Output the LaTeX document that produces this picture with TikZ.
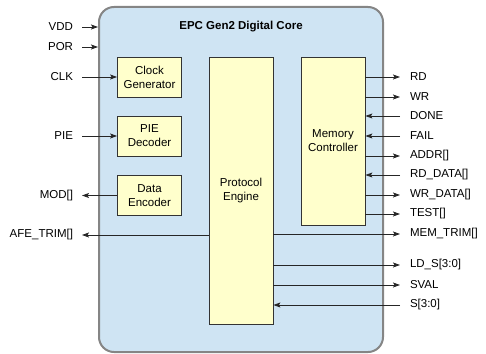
\documentclass[tikz,border=0pt]{standalone}
\usepackage{fontspec}
\setmainfont{Liberation Sans}
\usetikzlibrary{arrows.meta,positioning}
\definecolor{coreblue}{HTML}{CFE4F3}
\definecolor{blockyel}{HTML}{FFFFCC}
\definecolor{coreedge}{HTML}{858585}

\begin{document}
\begin{tikzpicture}[
  x=1pt, y=-1pt,
  font=\fontsize{11.5}{14}\selectfont,
  core/.style={draw=coreedge, fill=coreblue, line width=2pt, rounded corners=15pt},
  blk/.style={draw=black!80, fill=blockyel, align=center, inner sep=0pt, minimum width=64pt, line width=0.8pt},
  sigin/.style={inner sep=0pt, outer xsep=9pt, anchor=east},
  sigout/.style={inner sep=0pt, outer xsep=10pt, anchor=west},
  arr/.style={-{Stealth[length=7pt, width=5pt, inset=1.5pt]}, line width=0.8pt, draw=black!85}
]
\useasboundingbox (0,0) rectangle (486,353);
% core block
\node[core, minimum width=284pt, minimum height=345pt] (dig) at (241,179.5) {};
\node[font=\fontsize{11.5}{14}\selectfont\bfseries] (ttl) at (241,27) {EPC Gen2 Digital Core};

% inner blocks
\node[blk, minimum height=40pt] (clkgen) at (149.5,77) {Clock\\Generator};
\node[blk, minimum height=40pt] (piedec) at (149.5,136) {PIE\\Decoder};
\node[blk, minimum height=40pt] (dataenc) at (149.5,195.5) {Data\\Encoder};
\node[blk, minimum height=267pt] (proto) at (241,190.5) {Protocol\\Engine};
\node[blk, minimum height=168pt] (memctl) at (333,141) {Memory\\Controller};

% left side signals
\node[sigin] (vdd) at (82,27) {VDD};
\node[sigin] (por) at (82,47) {POR};
\node[sigin] (clk) at (82,77) {CLK};
\node[sigin] (pie) at (82,136) {PIE};
\node[sigin] (mod) at (82,195.5) {MOD[]};
\node[sigin] (afe) at (82,235) {AFE\_TRIM[]};

\draw[arr] (vdd) -- (vdd -| dig.west);
\draw[arr] (por) -- (por -| dig.west);
\draw[arr] (clk) -- (clkgen);
\draw[arr] (pie) -- (piedec);
\draw[arr] (dataenc) -- (mod);
\draw[arr] (afe -| proto.west) -- (afe);

% right side signals
\node[sigout] (rd) at (400,77) {RD};
\node[sigout] (wr) at (400,97) {WR};
\node[sigout] (done) at (400,116) {DONE};
\node[sigout] (fail) at (400,136) {FAIL};
\node[sigout] (addr) at (400,156) {ADDR[]};
\node[sigout] (rddata) at (400,175) {RD\_DATA[]};
\node[sigout] (wrdata) at (400,195) {WR\_DATA[]};
\node[sigout] (test) at (400,214) {TEST[]};
\node[sigout] (memtrim) at (400,234) {MEM\_TRIM[]};
\node[sigout] (lds) at (400,265) {LD\_S[3:0]};
\node[sigout] (sval) at (400,285) {SVAL};
\node[sigout] (sin) at (400,305) {S[3:0]};

\draw[arr] (rd -| memctl.east) -- (rd);
\draw[arr] (wr -| memctl.east) -- (wr);
\draw[arr] (done) -- (done -| memctl.east);
\draw[arr] (fail) -- (fail -| memctl.east);
\draw[arr] (addr -| memctl.east) -- (addr);
\draw[arr] (rddata) -- (rddata -| memctl.east);
\draw[arr] (wrdata -| memctl.east) -- (wrdata);
\draw[arr] (test -| memctl.east) -- (test);
\draw[arr] (memtrim -| proto.east) -- (memtrim);
\draw[arr] (lds -| proto.east) -- (lds);
\draw[arr] (sval -| proto.east) -- (sval);
\draw[arr] (sin) -- (sin -| proto.east);
\end{tikzpicture}
\end{document}
